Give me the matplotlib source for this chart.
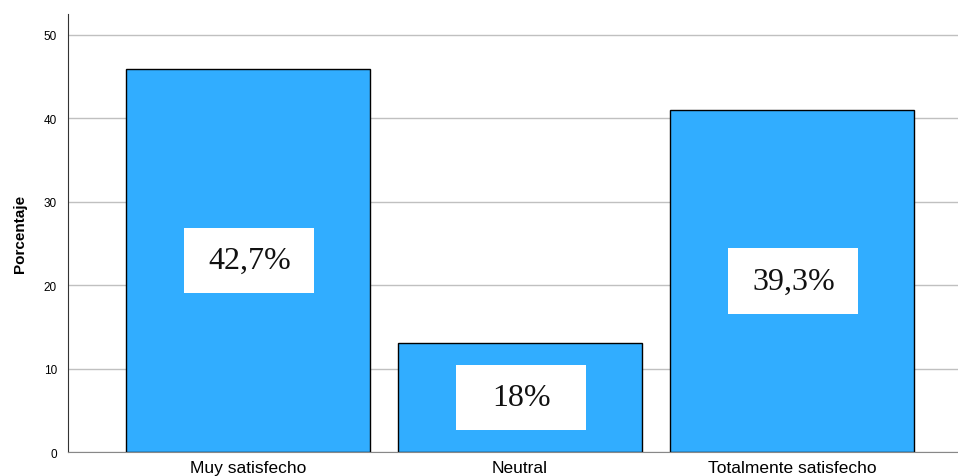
import numpy as np
import matplotlib
matplotlib.use("Agg")
import matplotlib.pyplot as plt
from matplotlib.patches import Rectangle

categorias = ["Muy satisfecho", "Neutral", "Totalmente satisfecho"]
porcentajes = [45.9, 13.1, 41.0]
etiquetas = ["42,7%", "18%", "39,3%"]

BLUE = "#31adff"

fig = plt.figure(figsize=(9.58, 4.77), dpi=100)
ax = fig.add_axes([0.071, 0.0503, 0.929, 0.9183])
x = np.arange(len(categorias))
ax.bar(x, porcentajes, width=0.9, color=BLUE, edgecolor="black", linewidth=1, zorder=2)

# cajas blancas con etiquetas
bw, bh = 0.478, 7.8
for xi, h, t in zip(x, porcentajes, etiquetas):
    ax.add_patch(Rectangle((xi - bw / 2 + 0.005, h / 2 - bh / 2), bw, bh, facecolor="white",
                           edgecolor="none", zorder=3))
    ax.text(xi + 0.005, h / 2, t, ha="center", va="center", fontsize=23,
            family="Liberation Serif", color="#111111", zorder=4)

ax.set_xlim(-0.662, 2.61)
ax.set_ylim(0, 52.5)
ax.set_yticks([0, 10, 20, 30, 40, 50])
ax.set_xticks(x)
ax.set_xticklabels(categorias, fontsize=12.5, family="Liberation Sans")
for lab in ax.get_yticklabels():
    lab.set_family("Liberation Sans")
ax.tick_params(axis="y", length=0, labelsize=8.5, pad=8)
ax.tick_params(axis="x", length=0, pad=6)
ax.set_ylabel("Porcentaje", fontsize=11, fontweight="bold", family="Liberation Sans", labelpad=12)
ax.grid(axis="y", color="#c0c0c0", linewidth=1, zorder=0)
ax.spines[["top", "right"]].set_visible(False)
ax.spines["left"].set_color("#333333")
ax.spines["bottom"].set_color("#888888")
fig.savefig("out.png", dpi=100, facecolor="white")
